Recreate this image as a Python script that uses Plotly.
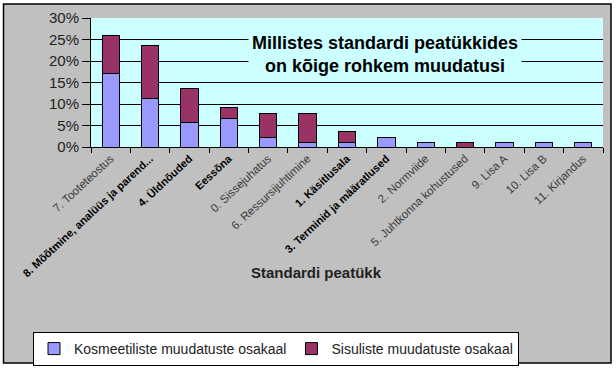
import plotly.graph_objects as go

categories = ["7. Tooteteostus", "8. Mõõtmine, analüüs ja parend...", "4. Üldnõuded", "Eessõna",
              "0. Sissejuhatus", "6. Ressursijuhtimine", "1. Käsitlusala", "3. Terminid ja määratlused",
              "2. Normviide", "5. Juhtkonna kohustused", "9. Lisa A", "10. Lisa B", "11. Kirjandus"]
bold_flags = [False, True, True, True, False, False, True, True, False, False, False, False, False]
cosmetic = [0.170, 0.112, 0.058, 0.067, 0.023, 0.011, 0.011, 0.023, 0.011, 0.0, 0.011, 0.011, 0.011]
content = [0.090, 0.125, 0.077, 0.024, 0.056, 0.068, 0.024, 0.0, 0.0, 0.011, 0.0, 0.0, 0.0]
series_names = ["Kosmeetiliste muudatuste osakaal", "Sisuliste muudatuste osakaal"]
title_text = "Millistes standardi peatükkides<br>on kõige rohkem muudatusi"
xaxis_title = "Standardi peatükk"

W, H = 616, 368
L, R, T, B = 91, 13, 18, 221
pw, ph = W - L - R, H - T - B

def px_x(p):
    return (p - L) / pw

def px_y(p):
    return (H - B - p) / ph

ticktext = [f"<b>{c}</b>" if b else
            f"<span style='color:#3a3a3a;font-size:11.5px'>{c}</span>"
            for c, b in zip(categories, bold_flags)]

fig = go.Figure()
fig.add_trace(go.Bar(x=categories, y=cosmetic, name=series_names[0],
                     marker=dict(color="#9999FF", line=dict(color="black", width=1))))
fig.add_trace(go.Bar(x=categories, y=content, name=series_names[1],
                     marker=dict(color="#993366", line=dict(color="black", width=1))))

fig.update_layout(
    width=W, height=H, margin=dict(l=L, r=R, t=T, b=B, autoexpand=False),
    barmode="stack", bargap=0.56,
    paper_bgcolor="#C0C0C0", plot_bgcolor="#CCFFFF",
    font=dict(family="Arial, Liberation Sans, sans-serif", color="black"),
    showlegend=True,
    legend=dict(orientation="h", xref="container", yref="container",
                x=276 / W, y=1 - 332 / H, xanchor="center", yanchor="top",
                bgcolor="white", bordercolor="black", borderwidth=1,
                font=dict(size=14, color="#222"), traceorder="normal",
                itemwidth=30, tracegroupgap=0),
    xaxis=dict(type="category", tickmode="array", tickvals=categories, ticktext=ticktext,
               tickangle=-43, tickfont=dict(size=11, color="black"), automargin=False,
               showline=True, linecolor="black", linewidth=1,
               ticks="outside", ticklen=5, tickcolor="black", tickson="boundaries",
               showgrid=False),
    yaxis=dict(range=[0, 0.3], dtick=0.05, tickformat=".0%", automargin=False,
               tickfont=dict(size=15, color="#222"),
               showline=True, linecolor="black", linewidth=1,
               ticks="outside", ticklen=8, tickcolor="black",
               showgrid=True, gridcolor="black", gridwidth=1, zeroline=False),
)

# white page outside the chart area, and the chart-area border
for (x0, x1, y0, y1) in [(0, 3, 0, H), (611, W, 0, H), (0, W, 0, 4), (0, W, 363, H)]:
    fig.add_shape(type="rect", xref="paper", yref="paper",
                  x0=px_x(x0), x1=px_x(x1), y0=px_y(y1), y1=px_y(y0),
                  fillcolor="white", line=dict(width=0), layer="above")
fig.add_shape(type="rect", xref="paper", yref="paper",
              x0=px_x(3.5), x1=px_x(611), y0=px_y(363), y1=px_y(4),
              fillcolor="rgba(0,0,0,0)", line=dict(color="black", width=1.5), layer="above")

fig.add_annotation(text=f"<b>{title_text}</b>", xref="paper", yref="paper",
                   x=px_x(385), y=px_y(54), xanchor="center", yanchor="middle",
                   showarrow=False,
                   font=dict(size=18, color="black"), bgcolor="#CCFFFF", borderpad=3)
fig.add_annotation(text=f"<b>{xaxis_title}</b>", xref="paper", yref="paper",
                   x=px_x(316), y=px_y(272), xanchor="center", yanchor="middle",
                   showarrow=False,
                   font=dict(size=15, color="#222"))

fig.write_html("out.html", config={"displayModeBar": False},
               post_script="document.body.style.margin='0';document.body.style.padding='0';")
